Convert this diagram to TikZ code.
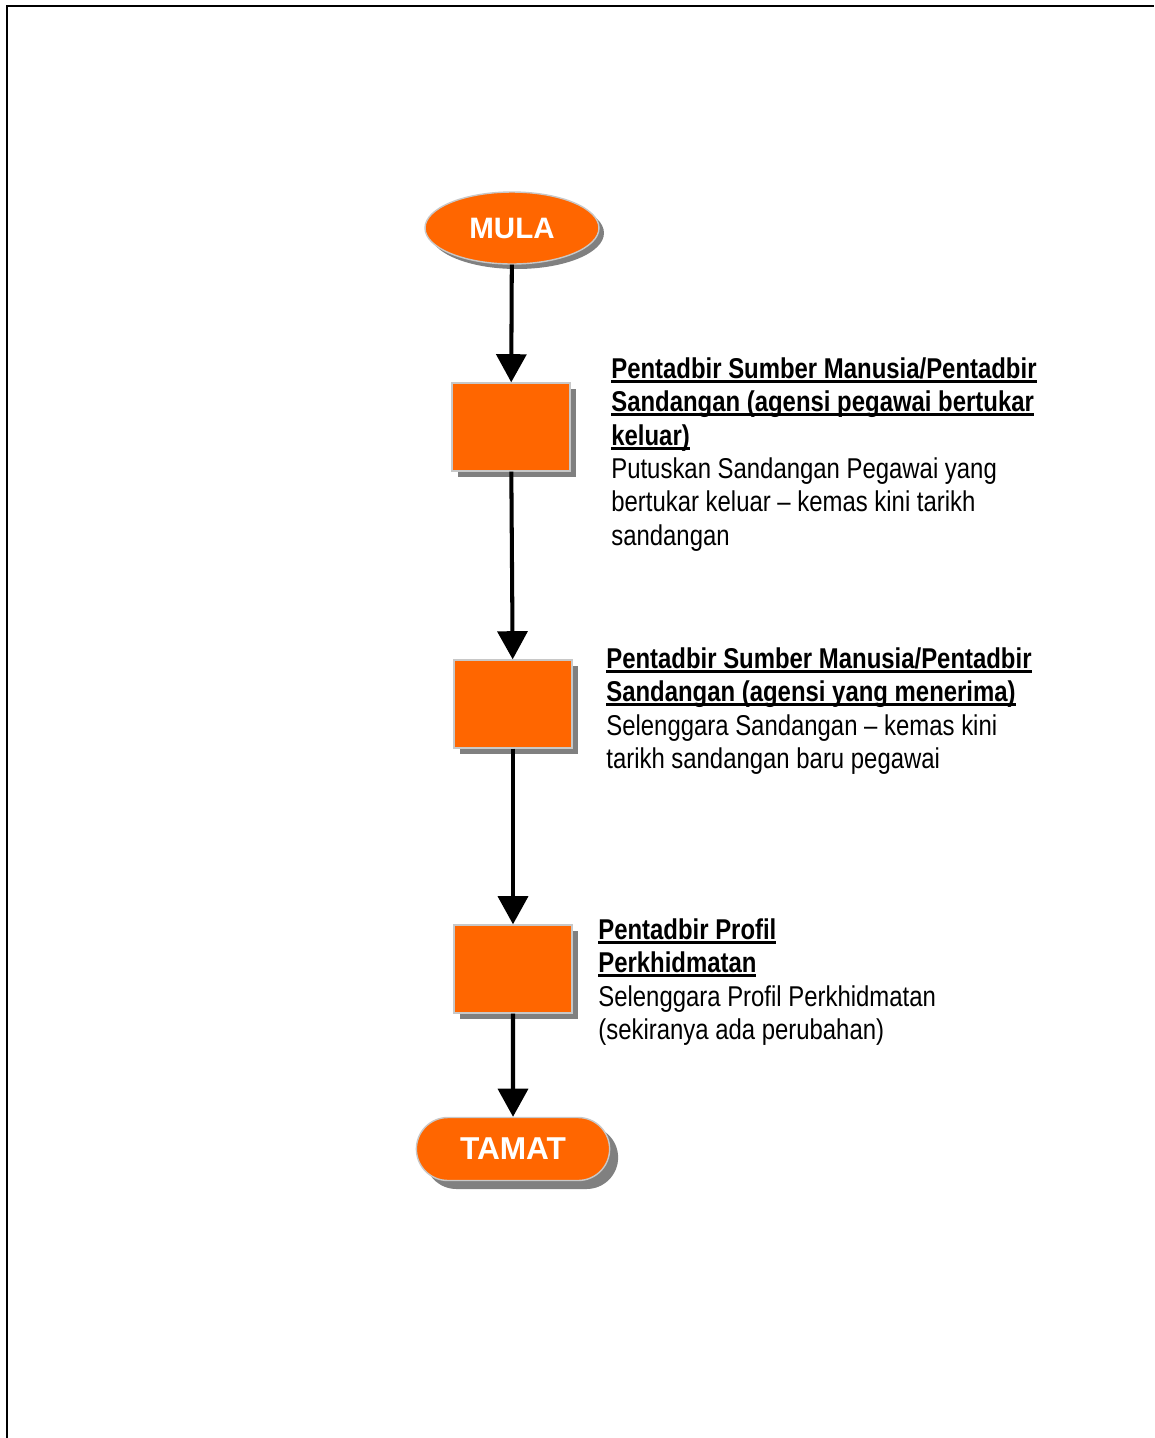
\documentclass[tikz,border=0pt]{standalone}
\usepackage{fontspec}
\setmainfont{Liberation Sans}[FakeStretch=0.835]
\newfontfamily\termfont{Liberation Sans}
\usetikzlibrary{arrows.meta,shapes.geometric,shapes.misc,shadows}
\definecolor{flowor}{RGB}{255,102,0}
\definecolor{shadegray}{RGB}{128,128,128}
\definecolor{edgegray}{RGB}{200,200,200}
\newcommand{\undl}[1]{\setbox0\hbox{\bfseries #1}\rlap{\rule[-2.6pt]{\wd0}{1.6pt}}\box0}

\begin{document}
\begin{tikzpicture}[x=0.02cm,y=-0.02cm,
  shade/.style={drop shadow={shadow xshift=#1, shadow yshift=-#1, fill=shadegray, opacity=1}},
  term/.style={draw=edgegray, line width=0.8pt, fill=flowor, text=white,
    font=\termfont\bfseries\fontsize{16.8pt}{20pt}\selectfont},
  stepbox/.style={rectangle, draw=edgegray, line width=0.8pt, fill=flowor,
    minimum width=2.36cm, minimum height=1.76cm, shade=0.12cm},
  desc/.style={anchor=north west, align=left, inner sep=0pt,
    font=\fontsize{16.3pt}{19.05pt}\selectfont},
  flow/.style={line width=2.3pt, -{Triangle[width=17pt,length=16pt]}}]
  \useasboundingbox (0,0) rectangle (1154,1438);
  \fill[white] (0,0) rectangle (1154,1438);
  \draw[line width=1.2pt] (7,1438) -- (7,6) -- (1154,6);
  % flow chart
  \node[term, ellipse, minimum width=3.48cm, minimum height=1.44cm, shade=0.1cm] (mula) at (512,228) {MULA};
  \node[stepbox] (putus) at (511,427) {};
  \node[stepbox] (selenggara) at (513,704) {};
  \node[stepbox] (profil) at (513,969) {};
  \node[term, rounded rectangle, minimum width=4.1cm, minimum height=1.26cm, shade=0.17cm,
    font=\termfont\bfseries\fontsize{18pt}{21pt}\selectfont] (tamat) at (513,1149) {TAMAT};
  % descriptions
  \node[desc] (putusText) at (611,357) {\undl{Pentadbir Sumber Manusia/Pentadbir}\\
    \undl{Sandangan (agensi pegawai bertukar}\\
    \undl{keluar)}\\
    Putuskan Sandangan Pegawai yang\\
    bertukar keluar – kemas kini tarikh\\
    sandangan};
  \node[desc] (selenggaraText) at (606,647) {\undl{Pentadbir Sumber Manusia/Pentadbir}\\
    \undl{Sandangan (agensi yang menerima)}\\
    Selenggara Sandangan – kemas kini\\
    tarikh sandangan baru pegawai};
  \node[desc] (profilText) at (598,918) {\undl{Pentadbir Profil}\\
    \undl{Perkhidmatan}\\
    Selenggara Profil Perkhidmatan\\
    (sekiranya ada perubahan)};
  % connectors
  \draw[flow] (mula) -- (putus);
  \draw[flow] (putus) -- (selenggara);
  \draw[flow] (selenggara) -- (profil);
  \draw[flow] (profil) -- (tamat);
\end{tikzpicture}
\end{document}
